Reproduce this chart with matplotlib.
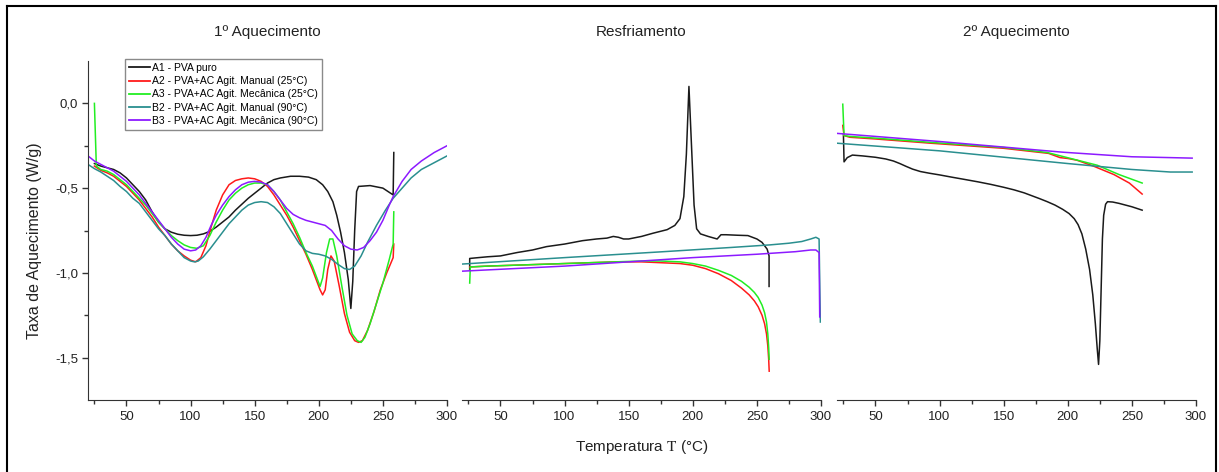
import matplotlib
matplotlib.use("Agg")
import matplotlib.pyplot as plt
from matplotlib.lines import Line2D

plt.rcParams['font.family'] = ['Liberation Sans', 'DejaVu Sans']
plt.rcParams['mathtext.fontset'] = 'stix'

# ---- dados (T em °C, taxa em W/g) ----
nomes = ["A1 - PVA puro",
         "A2 - PVA+AC Agit. Manual (25°C)",
         "A3 - PVA+AC Agit. Mecânica (25°C)",
         "B2 - PVA+AC Agit. Manual (90°C)",
         "B3 - PVA+AC Agit. Mecânica (90°C)"]
cores = ["#1a1a1a", "#ff1a1a", "#22ee22", "#2a8f8f", "#8c1aff"]
titulos = ["1º Aquecimento", "Resfriamento", "2º Aquecimento"]

# 1º aquecimento
t1_a1 = [25, 30, 35, 40, 45, 50, 55, 60, 65, 70, 75, 80, 85, 90, 95, 100, 105, 110, 115, 120,
         125, 130, 135, 140, 145, 150, 155, 160, 165, 170, 178, 185, 192, 198, 203, 207, 211,
         214, 217, 220, 223, 225, 226.5, 228, 229.5, 231, 240, 250, 258, 258.5]
v1_a1 = [-0.355, -0.37, -0.38, -0.39, -0.41, -0.44, -0.48, -0.52, -0.57, -0.64, -0.70, -0.74,
         -0.76, -0.772, -0.778, -0.78, -0.778, -0.77, -0.755, -0.73, -0.70, -0.67, -0.63, -0.595,
         -0.56, -0.53, -0.50, -0.47, -0.45, -0.44, -0.43, -0.43, -0.435, -0.45, -0.48, -0.52,
         -0.58, -0.66, -0.76, -0.88, -1.04, -1.21, -1.05, -0.75, -0.52, -0.49, -0.485, -0.50,
         -0.54, -0.29]
t1_a2 = [25, 30, 35, 40, 45, 50, 55, 60, 65, 70, 75, 80, 85, 90, 95, 100, 104, 108, 112, 116,
         120, 125, 130, 135, 140, 145, 150, 155, 160, 165, 170, 175, 180, 185, 190, 195, 198,
         201, 203, 205, 207, 209.5, 212, 216, 220, 224, 228, 231, 234, 238, 243, 248, 253, 258,
         258.5]
v1_a2 = [-0.37, -0.395, -0.41, -0.43, -0.46, -0.49, -0.53, -0.57, -0.62, -0.67, -0.73, -0.78,
         -0.83, -0.87, -0.90, -0.925, -0.935, -0.91, -0.84, -0.73, -0.63, -0.54, -0.48, -0.455,
         -0.445, -0.44, -0.445, -0.46, -0.49, -0.54, -0.60, -0.66, -0.73, -0.81, -0.89, -0.98,
         -1.04, -1.10, -1.13, -1.10, -0.98, -0.90, -0.93, -1.08, -1.24, -1.35, -1.40, -1.41,
         -1.40, -1.34, -1.23, -1.10, -1.00, -0.91, -0.83]
t1_a3 = [25, 26.5, 30, 35, 40, 45, 50, 55, 60, 65, 70, 75, 80, 85, 90, 95, 100, 105, 110, 115,
         120, 125, 130, 135, 140, 145, 150, 155, 160, 165, 170, 175, 180, 185, 190, 195, 198,
         201, 203, 206, 208.5, 211, 214, 218, 222, 226, 230, 233, 236, 240, 245, 250, 255, 258,
         258.5]
v1_a3 = [0.0, -0.37, -0.39, -0.40, -0.42, -0.45, -0.48, -0.52, -0.56, -0.60, -0.65, -0.70,
         -0.74, -0.78, -0.81, -0.835, -0.85, -0.855, -0.84, -0.78, -0.70, -0.63, -0.57, -0.53,
         -0.50, -0.48, -0.47, -0.47, -0.48, -0.52, -0.57, -0.64, -0.71, -0.79, -0.88, -0.96,
         -1.02, -1.08, -1.03, -0.88, -0.80, -0.80, -0.90, -1.08, -1.25, -1.36, -1.40, -1.41,
         -1.38, -1.30, -1.18, -1.06, -0.92, -0.83, -0.64]
t1_b2 = [20, 25, 30, 35, 40, 45, 50, 55, 60, 65, 70, 75, 80, 85, 90, 95, 100, 103, 106, 110,
         115, 120, 125, 130, 135, 140, 145, 150, 155, 160, 165, 170, 175, 180, 185, 190, 195,
         200, 205, 210, 215, 220, 224, 228, 233, 238, 245, 252, 258, 265, 272, 280, 290, 300]
v1_b2 = [-0.36, -0.385, -0.405, -0.43, -0.455, -0.49, -0.52, -0.56, -0.59, -0.64, -0.69, -0.74,
         -0.78, -0.83, -0.87, -0.91, -0.93, -0.935, -0.93, -0.905, -0.86, -0.81, -0.76, -0.71,
         -0.67, -0.63, -0.60, -0.585, -0.58, -0.585, -0.61, -0.65, -0.71, -0.77, -0.83, -0.87,
         -0.885, -0.89, -0.90, -0.92, -0.95, -0.975, -0.98, -0.96, -0.90, -0.82, -0.72, -0.63,
         -0.56, -0.50, -0.44, -0.39, -0.35, -0.31]
t1_b3 = [20, 25, 30, 35, 40, 45, 50, 55, 60, 65, 70, 75, 80, 85, 90, 95, 100, 104, 108, 112,
         116, 120, 125, 130, 135, 140, 145, 150, 155, 160, 165, 170, 175, 180, 185, 190, 195,
         200, 205, 210, 215, 220, 225, 230, 235, 240, 245, 250, 255, 258, 265, 272, 280, 290, 300]
v1_b3 = [-0.31, -0.34, -0.36, -0.38, -0.40, -0.43, -0.46, -0.50, -0.54, -0.59, -0.64, -0.69,
         -0.74, -0.79, -0.83, -0.86, -0.87, -0.865, -0.84, -0.79, -0.72, -0.66, -0.60, -0.55,
         -0.51, -0.48, -0.465, -0.46, -0.465, -0.48, -0.52, -0.57, -0.62, -0.655, -0.675, -0.69,
         -0.70, -0.71, -0.72, -0.75, -0.80, -0.84, -0.86, -0.865, -0.85, -0.81, -0.76, -0.69,
         -0.60, -0.55, -0.46, -0.39, -0.34, -0.29, -0.25]

# resfriamento
t2_a1 = [26, 26, 30, 40, 50, 63, 75, 86, 100, 114, 125, 133, 138, 142, 146, 150, 160, 169, 180,
         186, 190, 193, 195, 197, 199, 201, 203, 206, 212, 219, 222, 226, 235, 243, 250, 254,
         258, 259.5, 259.5]
v2_a1 = [-0.98, -0.915, -0.912, -0.905, -0.90, -0.88, -0.865, -0.845, -0.83, -0.81, -0.80,
         -0.795, -0.785, -0.79, -0.80, -0.80, -0.785, -0.766, -0.745, -0.72, -0.68, -0.55, -0.30,
         0.10, -0.25, -0.60, -0.74, -0.77, -0.785, -0.80, -0.775, -0.775, -0.778, -0.78, -0.80,
         -0.82, -0.86, -0.90, -1.08]
t2_a2 = [26, 40, 60, 80, 100, 120, 140, 160, 175, 190, 200, 210, 220, 230, 238, 244, 248, 251,
         254, 256, 257.5, 258.5, 259.2, 259.6]
v2_a2 = [-0.965, -0.96, -0.955, -0.95, -0.945, -0.94, -0.935, -0.935, -0.94, -0.945, -0.955,
         -0.975, -1.005, -1.045, -1.09, -1.13, -1.165, -1.20, -1.25, -1.30, -1.36, -1.43, -1.51,
         -1.58]
t2_a3 = [26, 26.5, 40, 60, 80, 100, 120, 140, 160, 175, 190, 200, 210, 220, 230, 238, 244, 248,
         251, 254, 256, 257.5, 258.5, 259.2, 259.6]
v2_a3 = [-1.06, -0.965, -0.96, -0.955, -0.95, -0.945, -0.94, -0.935, -0.93, -0.93, -0.935,
         -0.945, -0.96, -0.985, -1.015, -1.05, -1.085, -1.115, -1.145, -1.19, -1.235, -1.29,
         -1.36, -1.44, -1.51]
t2_b2 = [20, 100, 175, 230, 260, 275, 285, 292, 296, 298.5, 299.5]
v2_b2 = [-0.948, -0.91, -0.876, -0.85, -0.835, -0.825, -0.815, -0.80, -0.79, -0.80, -1.29]
t2_b3 = [20, 100, 150, 200, 250, 280, 292, 296, 298.5, 299]
v2_b3 = [-0.99, -0.96, -0.935, -0.91, -0.89, -0.875, -0.865, -0.865, -0.88, -1.26]

# 2º aquecimento
t3_a1 = [25, 25.5, 28, 32, 40, 50, 58, 64, 69, 74, 79, 85, 92, 100, 110, 119, 130, 140, 150,
         158, 166, 172, 178, 184, 190, 196, 201, 205, 208, 211, 214, 217, 219.5, 221.5, 223,
         224, 225, 226, 227, 228, 229.5, 231, 235, 240, 250, 258]
v3_a1 = [-0.18, -0.345, -0.32, -0.305, -0.31, -0.318, -0.328, -0.34, -0.355, -0.372, -0.388,
         -0.402, -0.412, -0.422, -0.436, -0.448, -0.463, -0.478, -0.495, -0.51, -0.528, -0.545,
         -0.562, -0.58, -0.60, -0.625, -0.65, -0.68, -0.715, -0.77, -0.86, -0.98, -1.13, -1.30,
         -1.45, -1.54, -1.40, -1.10, -0.80, -0.66, -0.595, -0.58, -0.582, -0.59, -0.61, -0.63]
t3_a2 = [24.5, 25.5, 30, 50, 93, 150, 185, 194, 200, 207, 220, 236, 248, 258]
v3_a2 = [-0.13, -0.19, -0.20, -0.21, -0.235, -0.265, -0.295, -0.32, -0.325, -0.335, -0.37,
         -0.42, -0.47, -0.535]
t3_a3 = [24.5, 25.5, 30, 50, 93, 150, 184, 197, 210, 223, 240, 258]
v3_a3 = [-0.005, -0.19, -0.195, -0.205, -0.23, -0.26, -0.29, -0.315, -0.34, -0.365, -0.42, -0.47]
t3_b2 = [20, 100, 200, 250, 280, 297]
v3_b2 = [-0.235, -0.28, -0.355, -0.39, -0.405, -0.405]
t3_b3 = [20, 100, 196, 250, 280, 297]
v3_b3 = [-0.177, -0.225, -0.288, -0.315, -0.32, -0.323]

paineis = [
    [(t1_a1, v1_a1), (t1_a2, v1_a2), (t1_a3, v1_a3), (t1_b2, v1_b2), (t1_b3, v1_b3)],
    [(t2_a1, v2_a1), (t2_a2, v2_a2), (t2_a3, v2_a3), (t2_b2, v2_b2), (t2_b3, v2_b3)],
    [(t3_a1, v3_a1), (t3_a2, v3_a2), (t3_a3, v3_a3), (t3_b2, v3_b2), (t3_b3, v3_b3)],
]

W, H = 1219, 472
fig = plt.figure(figsize=(W / 100, H / 100), dpi=100)

esquerdas = [88, 462, 837]
largura = 359
topo, base = 61, 400

for i, curvas in enumerate(paineis):
    ax = fig.add_axes([esquerdas[i] / W, 1 - base / H, largura / W, (base - topo) / H])
    for (t, v), cor in zip(curvas, cores):
        ax.plot(t, v, color=cor, lw=1.1)
    ax.set_xlim(20, 300)
    ax.set_ylim(-1.75, 0.25)
    ax.set_xticks([50, 100, 150, 200, 250, 300])
    ax.set_xticks([25, 75, 125, 175, 225, 275], minor=True)
    ax.spines['top'].set_visible(False)
    ax.spines['right'].set_visible(False)
    ax.spines['bottom'].set_color('#333333')
    ax.tick_params(axis='x', which='major', direction='out', length=4, width=1,
                   colors='#333333', labelsize=9.5, pad=4)
    ax.tick_params(axis='x', which='minor', direction='out', length=3, width=1, colors='#333333')
    ax.tick_params(axis='x', labelcolor='#222222')
    if i == 0:
        ax.spines['left'].set_color('#333333')
        ax.set_yticks([0.0, -0.5, -1.0, -1.5])
        ax.set_yticklabels(['0,0', '-0,5', '-1,0', '-1,5'])
        ax.set_yticks([-0.25, -0.75, -1.25], minor=True)
        ax.tick_params(axis='y', which='major', direction='out', length=4, width=1,
                       colors='#333333', labelsize=9.5, pad=3)
        ax.tick_params(axis='y', which='minor', direction='out', length=3, width=1,
                       colors='#333333')
        ax.tick_params(axis='y', labelcolor='#222222')
        leg = ax.legend([Line2D([], [], color=c, lw=1.3) for c in cores], nomes,
                        loc='upper left', bbox_to_anchor=(0.103, 1.006), borderaxespad=0,
                        fontsize=7.5, handlelength=2.0, handletextpad=0.2, labelspacing=0.3,
                        borderpad=0.4, fancybox=False, framealpha=1, edgecolor='#8a8a8a')
        leg.get_frame().set_linewidth(1.0)
    else:
        ax.spines['left'].set_visible(False)
        ax.set_yticks([])
    ax.set_title(titulos[i], fontsize=11, color='#222222', pad=18)

fig.text(35 / W, 1 - 241 / H, "Taxa de Aquecimento (W/g)", rotation=90, fontsize=11.5,
         ha='center', va='center', color='#222222')
fig.text(642 / W, 1 - 447 / H, "Temperatura $\\mathrm{T}$ (°C)", fontsize=11,
         ha='center', va='center', color='#222222')

# moldura da figura
fig.add_artist(Line2D([7 / W, 7 / W], [-0.01, 1 - 6 / H], color='black', lw=1.5))
fig.add_artist(Line2D([7 / W, 1216 / W], [1 - 6 / H, 1 - 6 / H], color='black', lw=1.5))
fig.add_artist(Line2D([1216 / W, 1216 / W], [-0.01, 1 - 6 / H], color='black', lw=1.5))

fig.savefig("out.png", dpi=100)
